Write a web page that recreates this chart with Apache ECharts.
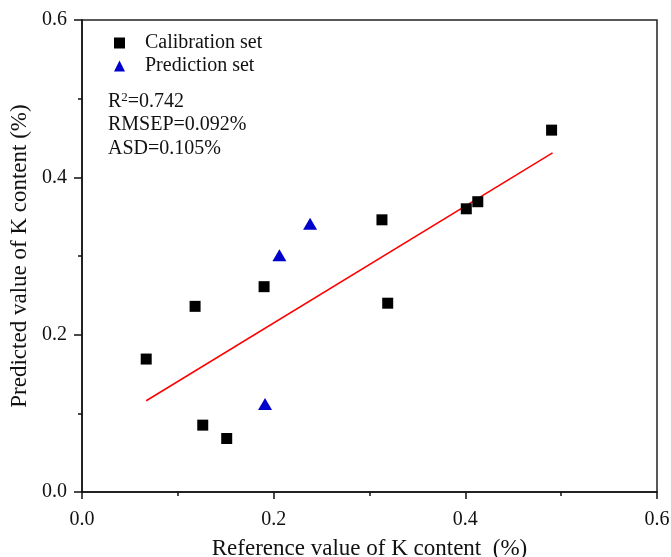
<!DOCTYPE html>
<html>
<head>
<meta charset="utf-8">
<script src="https://cdn.jsdelivr.net/npm/echarts@6/dist/echarts.min.js"></script>
<style>html,body{margin:0;padding:0;background:#fff}#c{width:671px;height:557px}</style>
</head>
<body>
<div id="c"></div>
<script>
const calibrationX = [0.067, 0.118, 0.126, 0.151, 0.190, 0.313, 0.319, 0.401, 0.413, 0.490];
const calibrationY = [0.169, 0.236, 0.085, 0.068, 0.261, 0.346, 0.240, 0.360, 0.369, 0.460];
const predictionX = [0.191, 0.206, 0.238];
const predictionY = [0.112, 0.301, 0.341];
const fitX = [0.067, 0.491];
const fitY = [0.116, 0.431];
const statLines = ['R²=0.742', 'RMSEP=0.092%', 'ASD=0.105%'];
const xTitle = 'Reference value of K content  (%)';
const yTitle = 'Predicted value of K content (%)';

const zip = (a, b) => a.map((v, i) => [v, b[i]]);
const FONT = '"Liberation Serif", "Times New Roman", serif';

const toRich = t => t.split('²').map(s => s ? '{a|' + s + '}' : '').join('{s|2}');

const chart = echarts.init(document.getElementById('c'));
chart.setOption({
  animation: false,
  backgroundColor: '#fff',
  textStyle: { fontFamily: FONT },
  grid: {
    left: 82, right: 14, top: 20, bottom: 65, containLabel: false, outerBoundsMode: 'none',
    show: true, borderColor: '#222', borderWidth: 1.5, backgroundColor: 'transparent'
  },
  legend: {
    orient: 'vertical', left: 114, top: 33, padding: 0, itemGap: 3, itemWidth: 11, itemHeight: 11,
    textStyle: { fontFamily: FONT, fontSize: 20, color: '#111', padding: [0, 0, 0, 15] },
    data: [
      { name: 'Calibration set', itemStyle: { color: '#000' } },
      { name: 'Prediction set', icon: 'triangle', itemStyle: { color: '#0000cc' } }
    ]
  },
  graphic: statLines.map((t, i) => ({
    type: 'text', left: 108, top: 91 + i * 24,
    style: {
      text: toRich(t), fill: '#111',
      rich: {
        a: { fontFamily: FONT, fontSize: 20, fill: '#111', color: '#111' },
        s: { fontFamily: FONT, fontSize: 13, fill: '#111', color: '#111', verticalAlign: 'top', padding: [0, 0, 8, 0] }
      }
    }
  })),
  xAxis: {
    type: 'value', min: 0, max: 0.6, interval: 0.2,
    name: xTitle, nameLocation: 'middle', nameGap: 45,
    nameTextStyle: { fontFamily: FONT, fontSize: 23, color: '#111' },
    axisLine: { lineStyle: { color: '#111', width: 1.5 } },
    axisTick: { show: true, inside: false, length: 7, lineStyle: { color: '#111', width: 1.5 } },
    minorTick: { show: true, splitNumber: 2, length: 4, lineStyle: { color: '#111', width: 1.5 } },
    splitLine: { show: false },
    axisLabel: { fontFamily: FONT, fontSize: 20, color: '#111', margin: 18, formatter: v => v.toFixed(1) }
  },
  yAxis: {
    type: 'value', min: 0, max: 0.6, interval: 0.2,
    name: yTitle, nameLocation: 'middle', nameGap: 48,
    nameTextStyle: { fontFamily: FONT, fontSize: 23, color: '#111' },
    axisLine: { show: true, lineStyle: { color: '#111', width: 1.5 } },
    axisTick: { show: true, inside: false, length: 8, lineStyle: { color: '#111', width: 1.5 } },
    minorTick: { show: true, splitNumber: 2, length: 4, lineStyle: { color: '#111', width: 1.5 } },
    splitLine: { show: false },
    axisLabel: { fontFamily: FONT, fontSize: 20, color: '#111', margin: 15, formatter: v => v.toFixed(1) }
  },
  series: [
    {
      name: 'Fit', type: 'line', data: zip(fitX, fitY), showSymbol: false, symbol: 'none',
      lineStyle: { color: '#ff0000', width: 1.5 }, z: 1
    },
    {
      name: 'Calibration set', type: 'scatter', data: zip(calibrationX, calibrationY),
      symbol: 'rect', symbolSize: 11, itemStyle: { color: '#000', opacity: 1 }, z: 3
    },
    {
      name: 'Prediction set', type: 'scatter', data: zip(predictionX, predictionY),
      symbol: 'triangle', symbolSize: [14, 12], itemStyle: { color: '#0000cc', opacity: 1 }, z: 3
    }
  ]
});
</script>
</body>
</html>
